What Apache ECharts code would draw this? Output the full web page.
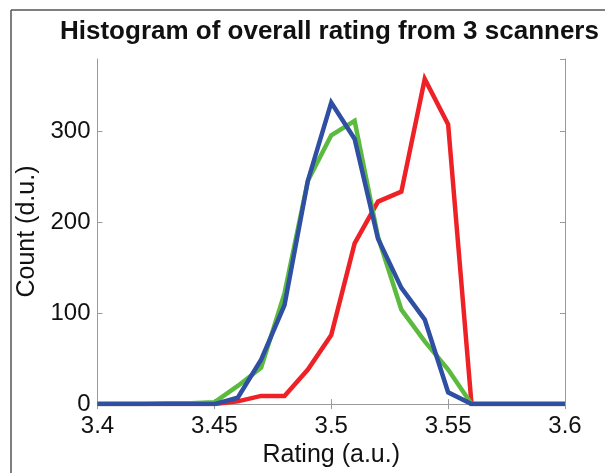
<!DOCTYPE html>
<html>
<head>
<meta charset="utf-8">
<script src="https://cdn.jsdelivr.net/npm/echarts@6/dist/echarts.min.js"></script>
<style>
html,body{margin:0;padding:0;background:#fff;}
#chart{width:605px;height:473px;}
</style>
</head>
<body>
<div id="chart"></div>
<script>
// Rating bin centres (a.u.)
var ratings = [3.40, 3.41, 3.42, 3.43, 3.44, 3.45, 3.46, 3.47, 3.48, 3.49, 3.50,
               3.51, 3.52, 3.53, 3.54, 3.55, 3.56, 3.57, 3.58, 3.59, 3.60];
// Counts per scanner
var redCounts   = [0, 0, 0, 0, 0, 0, 3, 9, 9, 38, 76, 177, 223, 234, 358, 308, 0, 0, 0, 0, 0];
var greenCounts = [0, 0, 0, 1, 1, 2, 20, 40, 122, 246, 296, 312, 184, 104, 69, 38, 0, 0, 0, 0, 0];
var blueCounts  = [0, 0, 0, 0, 0, 0, 7, 49, 109, 246, 332, 292, 182, 128, 93, 13, 0, 0, 0, 0, 0];
var xTicks = [3.4, 3.45, 3.5, 3.55, 3.6];
var yTicks = [0, 100, 200, 300];

function pairs(ys){ return ratings.map(function(x,i){ return [x, ys[i]]; }); }

var FONT = "'Liberation Sans', Arial, Helvetica, sans-serif";
var boxColor = '#9a9a9a';

var chart = echarts.init(document.getElementById('chart'));
var xBase = {
  type: 'value', min: 3.4, max: 3.6, interval: 0.05,
  axisLine: {show: true, lineStyle: {color: boxColor, width: 1}},
  axisTick: {show: true, inside: true, length: 5, lineStyle: {color: boxColor}},
  splitLine: {show: false}
};
var yBase = {
  type: 'value', min: 0, max: 380, interval: 100,
  axisLine: {show: true, lineStyle: {color: boxColor, width: 1}},
  axisTick: {show: true, inside: true, length: 5, lineStyle: {color: boxColor}},
  splitLine: {show: false}
};
function lineSeries(name, ys, color, z){
  return {
    name: name, type: 'line', data: pairs(ys), showSymbol: false, symbol: 'none',
    lineStyle: {color: color, width: 4.5, join: 'miter'}, z: z, animation: false
  };
}
chart.setOption({
  animation: false,
  backgroundColor: '#fff',
  title: {
    text: 'Histogram of overall rating from 3 scanners',
    left: 55, top: 14,
    textStyle: {fontFamily: FONT, fontSize: 26, fontWeight: 'bold', color: '#111'}
  },
  grid: {left: 97.5, right: 40, top: 59, bottom: 65, containLabel: false},
  xAxis: [
    Object.assign({}, xBase, {
      position: 'bottom',
      axisLabel: {
        fontFamily: FONT, fontSize: 24, color: '#111', margin: 10,
        formatter: function(v){ return String(parseFloat(v.toFixed(2))); }
      },
      name: 'Rating (a.u.)', nameLocation: 'middle', nameGap: 33,
      nameTextStyle: {fontFamily: FONT, fontSize: 25, color: '#111'}
    }),
    Object.assign({}, xBase, {position: 'top', axisLabel: {show: false}})
  ],
  yAxis: [
    Object.assign({}, yBase, {
      position: 'left',
      axisLabel: {fontFamily: FONT, fontSize: 24, color: '#111', margin: 7, showMaxLabel: false},
      name: 'Count (d.u.)', nameLocation: 'middle', nameGap: 53, nameRotate: 90,
      nameTextStyle: {fontFamily: FONT, fontSize: 25, color: '#111'}
    }),
    Object.assign({}, yBase, {position: 'right', axisLabel: {show: false}})
  ],
  series: [
    lineSeries('Scanner 1', redCounts, '#ee2226', 2),
    lineSeries('Scanner 2', greenCounts, '#5cbb3e', 3),
    lineSeries('Scanner 3', blueCounts, '#2f4fa2', 4)
  ],
  graphic: [
    {type: 'line', shape: {x1: 11, y1: 10, x2: 11, y2: 473}, style: {stroke: '#555', lineWidth: 1.5}, silent: true},
    {type: 'line', shape: {x1: 11, y1: 10, x2: 605, y2: 10}, style: {stroke: '#555', lineWidth: 1.5}, silent: true}
  ]
});
</script>
</body>
</html>
